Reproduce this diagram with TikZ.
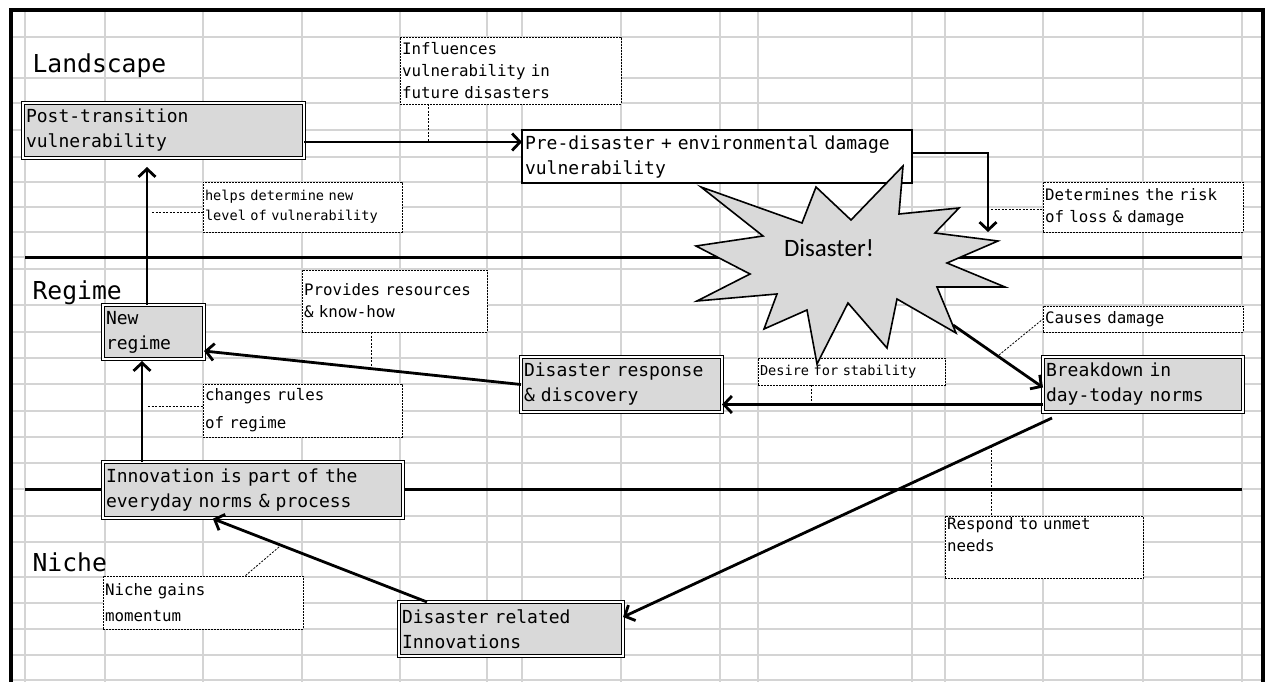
\documentclass[tikz,border=0pt]{standalone}
\usepackage{fontspec}
\newfontfamily\cellfont{DejaVu Sans Mono}
\newfontfamily\burstfont{Carlito}
\usetikzlibrary{arrows.meta}
\definecolor{cellgrey}{RGB}{212,212,212}
\definecolor{boxgrey}{RGB}{217,217,217}

\begin{document}
\begin{tikzpicture}[x=1pt,y=-1pt,
	gridline/.style={cellgrey, line width=1.1pt},
	layer/.style={line width=3pt},
	stage/.style={draw, double=white, double distance=1.1pt, line width=1.4pt, fill=boxgrey,
		anchor=north west, outer sep=0pt, inner xsep=3pt, inner ysep=1pt, align=left,
		font=\cellfont\fontsize{18}{25}\selectfont},
	plainstage/.style={stage, double=none, line width=1.4pt, fill=white},
	note/.style={draw, dash pattern=on 2pt off 1pt, line width=0.9pt, fill=white,
		anchor=north west, outer sep=0pt, inner xsep=2pt, inner ysep=1pt, align=left,
		font=\cellfont\fontsize{15.8}{22}\selectfont},
	smallnote/.style={note, font=\cellfont\fontsize{13.6}{20}\selectfont},
	arr/.style={line width=2.8pt, -{Straight Barb[length=8pt,width=17pt]}},
	lead/.style={line width=0.8pt, dash pattern=on 2pt off 1.5pt},
	layername/.style={anchor=base west, font=\cellfont\fontsize{24.7}{30}\selectfont}]

	\fill[white] (0,0) rectangle (1272,682);
	\useasboundingbox (0,0) rectangle (1272,682);

	% cells
	\foreach \gx in {25,105,203,302,400,487,522,621,720,758,912,945,1043,1143,1242}
		\draw[gridline] (\gx,11) -- (\gx,682);
	\foreach \gy in {37,78,103,130,157,182,207,232,257,269,305,332,358,384,411,437,463,489,516,542,577,603,629,655,680}
		\draw[gridline] (11,\gy) -- (1263,\gy);
	\draw[line width=3.2pt] (11,682) -- (11,10) -- (1263,10) -- (1263,682);

	% layers
	\draw[layer] (25,257) -- (1242,257);
	\draw[layer] (25,489) -- (1242,489);
	\node[layername] (land) at (29,73) {Landscape};
	\node[layername] (reg) at (29,299) {Regime};
	\node[layername] (nic) at (29,571) {Niche};

	% stages
	\node[stage, minimum width=281, minimum height=55, text width=275pt] (post) at (23,103) {Post-transition\\vulnerability};
	\node[plainstage, minimum width=390, minimum height=53, text width=384pt] (pre) at (522,130) {Pre-disaster + environmental damage\\vulnerability};
	\node[stage, minimum width=101, minimum height=54, text width=95pt] (newreg) at (103,305) {New\\regime};
	\node[stage, minimum width=201, minimum height=55, text width=195pt] (resp) at (521,357) {Disaster response\\\& discovery};
	\node[stage, minimum width=200, minimum height=55, text width=194pt] (brk) at (1043,357) {Breakdown in\\day-today norms};
	\node[stage, minimum width=300, minimum height=56, text width=294pt] (innov) at (103,462) {Innovation is part of the\\everyday norms \& process};
	\node[stage, minimum width=224, minimum height=54, text width=218pt] (rel) at (399,602) {Disaster related\\Innovations};

	% notes
	\node[note, minimum width=221, minimum height=67, text width=217pt] (infl) at (400,37) {Influences\\vulnerability in\\future disasters};
	\node[smallnote, minimum width=199, minimum height=50, text width=195pt] (helps) at (203,182) {helps determine new\\level of vulnerability};
	\node[note, minimum width=200, minimum height=50, text width=196pt] (det) at (1043,182) {Determines the risk\\of loss \& damage};
	\node[note, minimum width=185, minimum height=62, text width=181pt] (prov) at (302,270) {Provides resources\\\& know-how};
	\node[note, minimum width=199, minimum height=53, text width=195pt] (chg) at (203,384) {changes rules\\[6pt]of regime};
	\node[smallnote, minimum width=187, minimum height=27, text width=183pt] (des) at (758,358) {Desire for stability};
	\node[note, minimum width=200, minimum height=26, text width=196pt] (cause) at (1043,306) {Causes damage};
	\node[note, minimum width=198, minimum height=61, text width=194pt] (unmet) at (945,516) {Respond to unmet\\needs\\[-2pt]\strut};
	\node[note, minimum width=200, minimum height=53, text width=196pt] (nich) at (103,576) {Niche gains\\[4pt]momentum};

	% burst
	\draw[line width=1.6pt, line join=miter, fill=boxgrey]
		(903,166) -- (899,214) -- (959,208) -- (935,233) -- (998,241) -- (947,263)
		-- (1005,287) -- (937,287) -- (956,333) -- (897,299) -- (887,348) -- (848,303)
		-- (817,364) -- (807,310) -- (764,329) -- (777,294) -- (697,301) -- (750,274)
		-- (696,246) -- (763,236) -- (701,187) -- (802,223) -- (816,187) -- (851,220) -- cycle;
	\node[font=\burstfont\fontsize{25}{30}\selectfont] (dis) at (829,248) {Disaster!};

	% leader lines
	\coordinate (la) at (428,142);
	\coordinate (lb) at (152,212);
	\coordinate (lc) at (991,209);
	\coordinate (ld) at (371,367);
	\coordinate (le) at (148,406);
	\coordinate (lf) at (811,404);
	\coordinate (lg) at (999,355);
	\coordinate (lh) at (991,446);
	\coordinate (li) at (279,547);
	\draw[lead] (infl.south -| la) -- (la);
	\draw[lead] (lb) -- (lb -| helps.west);
	\draw[lead] (lc) -- (lc -| det.west);
	\draw[lead] (prov.south -| ld) -- (ld);
	\draw[lead] (le) -- (le -| chg.west);
	\draw[lead] (des.south -| lf) -- (lf);
	\draw[lead] (lg) -- (cause.west);
	\draw[lead] (lh) -- (lh |- unmet.north);
	\draw[lead] (li) -- ([xshift=142pt]nich.north west);

	% arrows
	\coordinate (cA) at (147,0);
	\coordinate (cB) at (142,0);
	\coordinate (rk) at (988,232);
	\coordinate (sp) at (953,325);
	\draw[arr] ([yshift=-11.5pt]post.east) -- ([yshift=-11.5pt]post.east -| pre.west);
	\draw[arr] ([yshift=3.5pt]pre.east) -| (rk);
	\draw[arr, shorten >=9pt] (newreg.north -| cA) -- (post.south -| cA);
	\draw[arr, shorten >=2pt] (innov.north -| cB) -- (newreg.south -| cB);
	\draw[arr] (resp.west) -- ([yshift=-19pt]newreg.east);
	\draw[arr] ([yshift=-20pt]brk.west) -- ([yshift=-20pt]brk.west -| resp.east);
	\draw[arr] (sp) -- ([yshift=-3pt]brk.west);
	\draw[arr] ([shift={(9pt,-6pt)}]brk.south west) -- ([yshift=12pt]rel.east);
	\draw[arr, shorten >=2pt] ([xshift=28pt]rel.north west) -- ([xshift=108pt]innov.south west);
\end{tikzpicture}
\end{document}
